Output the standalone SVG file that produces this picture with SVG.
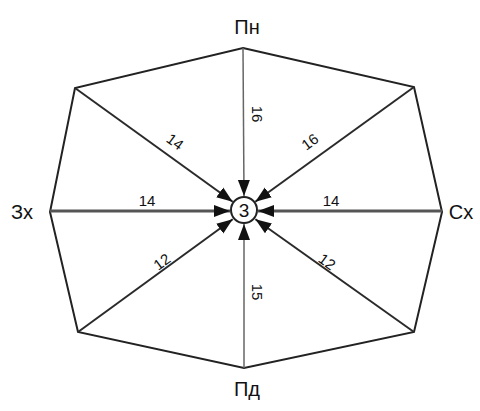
<svg xmlns="http://www.w3.org/2000/svg" width="480" height="411" viewBox="0 0 480 411">
<style>
.edge{stroke:#222;stroke-width:2;fill:none}
.ray{stroke:#2a2a2a;stroke-width:2;fill:none;marker-end:url(#arr)}
.rayh{stroke:#555;stroke-width:3}
.rayv{stroke:#666;stroke-width:1.5}
.lbl{font-family:"Liberation Sans",Arial,sans-serif;font-size:20px;fill:#111;text-anchor:middle}
.num{font-family:"Liberation Sans",Arial,sans-serif;font-size:15px;fill:#111;text-anchor:middle}
.ctr{font-family:"Liberation Sans",Arial,sans-serif;font-size:19px;fill:#111;text-anchor:middle}
</style>
<defs>
<marker id="arr" markerUnits="userSpaceOnUse" markerWidth="17" markerHeight="14" refX="16" refY="7" orient="auto">
<path d="M0,1 L16,7 L0,13 Z" fill="#111"/>
</marker>
</defs>
<g id="frame">
<polygon class="edge" points="243,48 414,87 442,212 414,332 244,368 78,332 50,212 75,88"/>
</g>
<g id="connectors">
<line class="ray rayv" x1="243" y1="48" x2="244" y2="196"/>
<line class="ray rayv" x1="244" y1="368" x2="244" y2="224"/>
<line class="ray rayh" x1="50" y1="211" x2="230" y2="211"/>
<line class="ray rayh" x1="442" y1="211" x2="258" y2="211"/>
<line class="ray" x1="75" y1="88" x2="232.7" y2="201.8"/>
<line class="ray" x1="414" y1="87" x2="255.3" y2="201.8"/>
<line class="ray" x1="78" y1="332" x2="232.7" y2="219.3"/>
<line class="ray" x1="414" y1="332" x2="255.4" y2="219.2"/>
</g>
<g id="center">
<circle cx="244" cy="210" r="13" fill="#fff" stroke="#222" stroke-width="2"/>
<text class="ctr" x="244" y="217">3</text>
</g>
<g id="labels">
<text class="lbl" x="247" y="34">Пн</text>
<text class="lbl" x="247" y="396">Пд</text>
<text class="lbl" x="22" y="219">Зх</text>
<text class="lbl" x="461" y="219">Сх</text>
<text class="num" x="147" y="206">14</text>
<text class="num" x="331" y="206">14</text>
<text class="num" transform="translate(252,114) rotate(90)">16</text>
<text class="num" transform="translate(252,292) rotate(90)">15</text>
<text class="num" transform="translate(172,146) rotate(36)">14</text>
<text class="num" transform="translate(313,146) rotate(-36)">16</text>
<text class="num" transform="translate(165,266) rotate(-36)">12</text>
<text class="num" transform="translate(324,266) rotate(36)">12</text>
</g>
</svg>
